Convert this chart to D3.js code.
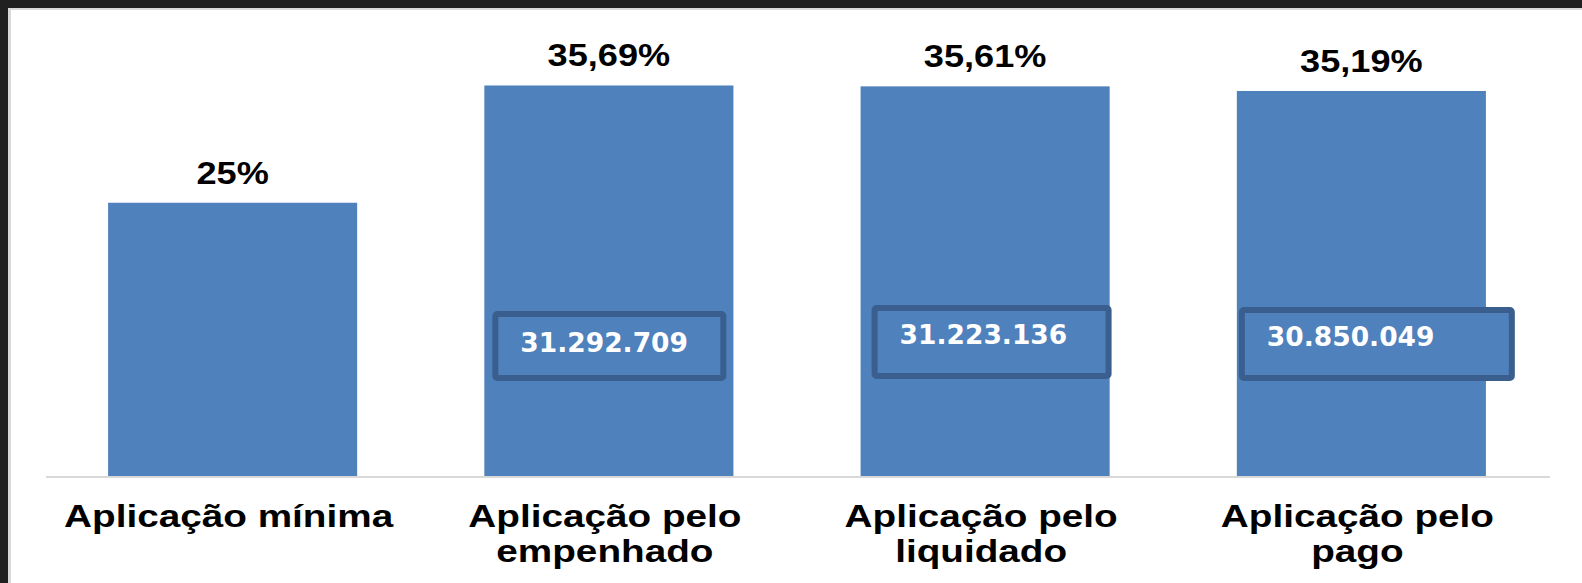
<!DOCTYPE html>
<html>
<head>
<meta charset="utf-8">
<script src="https://cdn.jsdelivr.net/npm/d3@7"></script>
<style>
  html, body { margin: 0; padding: 0; background: #202020; }
  svg { display: block; }
</style>
</head>
<body>
<svg id="chart" width="1582" height="583"></svg>
<script>
// ---- data ----
const categories = ["Aplicação mínima", "Aplicação pelo empenhado", "Aplicação pelo liquidado", "Aplicação pelo pago"];
const categoryLines = [["Aplicação mínima"], ["Aplicação pelo", "empenhado"], ["Aplicação pelo", "liquidado"], ["Aplicação pelo", "pago"]];
const values = [25, 35.69, 35.61, 35.19];
const valueLabels = ["25%", "35,69%", "35,61%", "35,19%"];
const amountLabels = [null, "31.292.709", "31.223.136", "30.850.049"];

// ---- layout (annotation boxes, outer edges) ----
const boxLayout = [null,
  { dx: 8,  top: 311, w: 234, h: 70, base: 352 },
  { dx: 11, top: 305, w: 240, h: 74, base: 344 },
  { dx: 2,  top: 307, w: 276, h: 74, base: 346 }
];

const W = 1582, H = 583;
const svg = d3.select("#chart");

// frame
svg.append("rect").attr("x", 0).attr("y", 0).attr("width", W).attr("height", H).attr("fill", "#202020");
svg.append("rect").attr("x", 8).attr("y", 8).attr("width", W - 8).attr("height", H - 8).attr("fill", "#d9d9d9");
svg.append("rect").attr("x", 11).attr("y", 10).attr("width", W - 11).attr("height", H - 10).attr("fill", "#ffffff");

const baseY = 477;
const x = d3.scaleBand().domain(categories).range([44.5, 1549.5]).paddingInner(0.338).paddingOuter(0.169);
const y = d3.scaleLinear().domain([0, 40]).range([baseY, baseY - 438.8]);

// bars
svg.append("g").selectAll("rect").data(categories).join("rect")
  .attr("x", d => x(d))
  .attr("y", (d, i) => y(values[i]))
  .attr("width", x.bandwidth())
  .attr("height", (d, i) => y(0) - y(values[i]))
  .attr("fill", "#4f81bd");

// baseline axis
const axis = svg.append("g").attr("transform", `translate(0,${baseY})`)
  .call(d3.axisBottom(x).tickSize(0).tickFormat(""));
axis.select(".domain").attr("stroke", "#d9d9d9").attr("stroke-width", 2)
  .attr("d", `M46,0H1550`);

// value labels
svg.append("g").selectAll("text").data(categories).join("text")
  .attr("transform", (d, i) => `translate(${x(d) + x.bandwidth() / 2},${y(values[i]) - 19}) scale(1.13,1)`)
  .attr("text-anchor", "middle")
  .attr("font-family", "'Liberation Sans', Arial, sans-serif")
  .attr("font-weight", "bold")
  .attr("font-size", 32)
  .attr("fill", "#000")
  .text((d, i) => valueLabels[i]);

// category labels
const cat = svg.append("g").selectAll("g").data(categories).join("g")
  .attr("transform", d => `translate(${x(d) + x.bandwidth() / 2 - 4},527)`);
cat.each(function (d, i) {
  d3.select(this).selectAll("text").data(categoryLines[i]).join("text")
    .attr("transform", (t, j) => `translate(0,${j * 35}) scale(1.21,1)`)
    .attr("text-anchor", "middle")
    .attr("font-family", "'Liberation Sans', Arial, sans-serif")
    .attr("font-weight", "bold")
    .attr("font-size", 32)
    .attr("fill", "#000")
    .text(t => t);
});

// amount boxes
const boxes = svg.append("g").selectAll("g")
  .data(categories.map((c, i) => ({ c, i })).filter(o => amountLabels[o.i] !== null))
  .join("g");
const sw = 6;
boxes.append("rect")
  .attr("x", o => x(o.c) + boxLayout[o.i].dx + sw / 2)
  .attr("y", o => boxLayout[o.i].top + sw / 2)
  .attr("width", o => boxLayout[o.i].w - sw)
  .attr("height", o => boxLayout[o.i].h - sw)
  .attr("rx", 2)
  .attr("fill", "#4f81bd")
  .attr("stroke", "#3a5f8e")
  .attr("stroke-width", sw);
boxes.append("text")
  .attr("x", o => x(o.c) + boxLayout[o.i].dx + 28)
  .attr("y", o => boxLayout[o.i].base)
  .attr("font-family", "'DejaVu Sans', sans-serif")
  .attr("font-weight", "bold")
  .attr("font-size", 26.5)
  .attr("fill", "#ffffff")
  .text(o => amountLabels[o.i]);
</script>
</body>
</html>
